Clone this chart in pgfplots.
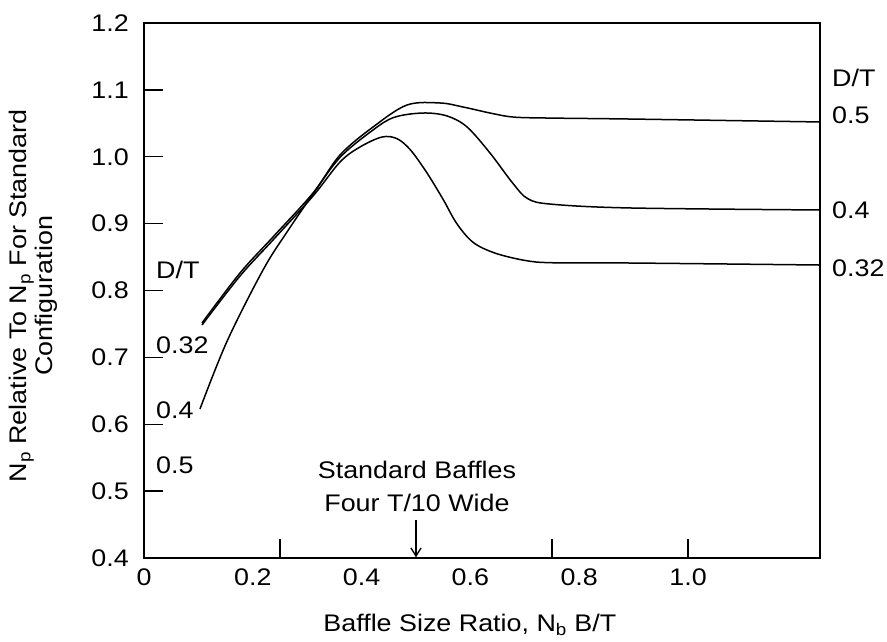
\documentclass[border=0pt]{standalone}
\usepackage{fontspec}
\setmainfont{Liberation Sans}[FakeStretch=1.12]
\usepackage{pgfplots}
\pgfplotsset{compat=1.18}
\usetikzlibrary{arrows.meta}
\begin{document}
\fontsize{24}{28}\selectfont
\begin{tikzpicture}
\begin{axis}[
  scale only axis, width=676pt, height=535pt,
  xmin=0, xmax=1.2426, ymin=0.4, ymax=1.2,
  clip=false,
  axis line style={line width=1.6pt},
  tick align=inside, xtick pos=bottom, ytick pos=left,
  major tick length=19pt,
  tick style={line width=1.4pt, black},
  /pgf/number format/assume math mode=true,
  xtick={0.25,0.75,1.0}, xticklabels={},
  extra x ticks={0,0.2,0.4,0.6,0.8,1.0},
  extra x tick labels={0,0.2,0.4,0.6,0.8,1.0},
  extra x tick style={tick style={draw=none}},
  ytick={0.4,0.5,0.6,0.7,0.8,0.9,1.0,1.1,1.2},
  yticklabels={0.4,0.5,0.6,0.7,0.8,0.9,1.0,1.1,1.2},
  ticklabel style={font=\fontsize{24}{28}\selectfont},
  xticklabel style={yshift=-3pt},
  yticklabel style={xshift=-7pt},
  xlabel={Baffle Size Ratio, N\textsubscript{b} B/T},
  xlabel style={at={(axis description cs:0.482,0)}, anchor=center, yshift=-67pt, font=\fontsize{24}{28}\selectfont},
  ylabel={N\textsubscript{p} Relative To N\textsubscript{p} For Standard\\Configuration},
  ylabel style={at={(axis description cs:-0.164,0.49)}, anchor=center, align=center, font=\fontsize{24}{20.5}\selectfont},
]
% D/T = 0.5
\addplot[black, line width=1.5pt, smooth, tension=0.55] coordinates {
(0.1066,0.7514) (0.1765,0.8262) (0.2371,0.8800) (0.3107,0.9458)
(0.3603,1.0026) (0.4210,1.0445) (0.4835,1.0774)
(0.5441,1.0804) (0.5864,1.0744) (0.6360,1.0654) (0.6783,1.0594)
(0.7408,1.0579) (0.8934,1.0564) (1.2426,1.0520)};
% D/T = 0.4
\addplot[black, line width=1.5pt, smooth, tension=0.55] coordinates {
(0.1029,0.6228) (0.1526,0.7240) (0.2188,0.8307) (0.2629,0.8875)
(0.3107,0.9443) (0.3603,0.9990) (0.4210,1.0400) (0.4600,1.0590)
(0.5129,1.0654) (0.5570,1.0610) (0.5938,1.0445) (0.6360,1.0056)
(0.6783,0.9600) (0.7060,0.9370) (0.7500,0.9290) (0.8934,0.9234)
(1.2426,0.9204)};
% D/T = 0.32
\addplot[black, line width=1.5pt, smooth, tension=0.55] coordinates {
(0.1066,0.7484) (0.1765,0.8217) (0.2371,0.8755) (0.3107,0.9413)
(0.3603,0.9921) (0.3971,1.0146) (0.4375,1.0295) (0.4651,1.0270)
(0.4900,1.0100) (0.5200,0.9760) (0.5500,0.9360) (0.5750,0.9000)
(0.6050,0.8720) (0.6450,0.8560) (0.7000,0.8450) (0.7500,0.8415)
(0.8934,0.8411) (1.2426,0.8381)};
% left labels
\node[anchor=west, inner sep=0pt] at (axis cs:0.022,0.8307) {D/T};
\node[anchor=west, inner sep=0pt] at (axis cs:0.022,0.7185) {0.32};
\node[anchor=west, inner sep=0pt] at (axis cs:0.022,0.6213) {0.4};
\node[anchor=west, inner sep=0pt] at (axis cs:0.022,0.5390) {0.5};
% right labels
\node[anchor=west, inner sep=0pt] at (axis cs:1.2647,1.1178) {D/T};
\node[anchor=west, inner sep=0pt] at (axis cs:1.2647,1.0624) {0.5};
\node[anchor=west, inner sep=0pt] at (axis cs:1.2647,0.9204) {0.4};
\node[anchor=west, inner sep=0pt] at (axis cs:1.2647,0.8336) {0.32};
% standard baffles annotation
\node[align=center, inner sep=0pt, font=\fontsize{24}{33}\selectfont] at (axis cs:0.5018,0.507) {Standard Baffles\\Four T/10 Wide};
\draw[line width=1.4pt, -{Straight Barb[length=8pt,width=10pt]}] (axis cs:0.5,0.4568) -- (axis cs:0.5,0.401);
\end{axis}
\pgfresetboundingbox
\path[use as bounding box] ([shift={(-144pt,-84pt)}]current axis.south west) rectangle ([shift={(67pt,23pt)}]current axis.north east);
\end{tikzpicture}
\end{document}
